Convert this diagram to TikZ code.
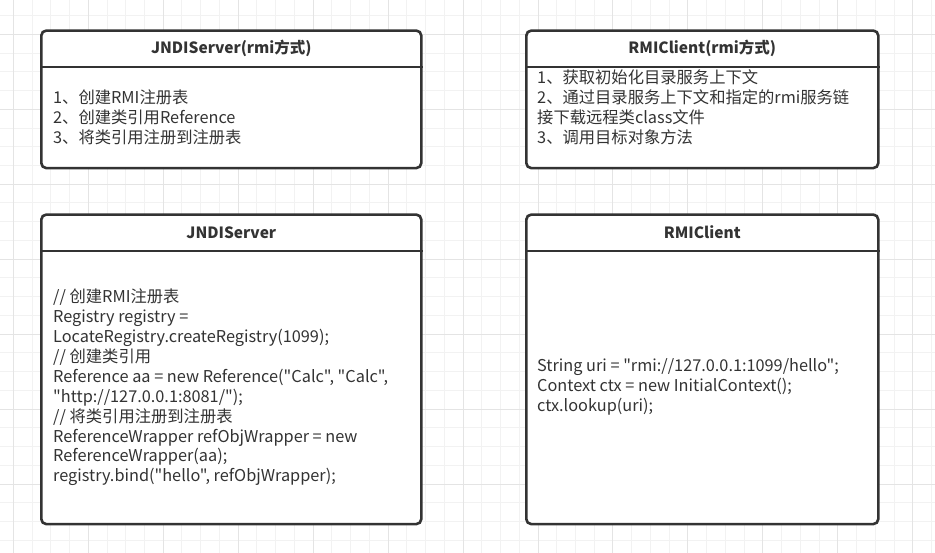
\documentclass[tikz,border=0pt]{standalone}
\usepackage{fontspec}
\newfontfamily\yahei{Noto Sans CJK SC}
\usetikzlibrary{positioning}

\definecolor{gridminor}{HTML}{F2F2F2}
\definecolor{gridmajor}{HTML}{E4E4E4}
\definecolor{boxline}{HTML}{333333}

\tikzset{
  classbox/.style={draw=boxline, line width=2.6pt, rounded corners=5pt, fill=white,
    inner sep=0pt, anchor=north west},
  classrule/.style={draw=boxline, line width=2.4pt},
  classtitle/.style={font=\yahei\fontsize{15.5}{18}\selectfont\bfseries, text=boxline},
  classbody/.style={font=\yahei\fontsize{16.3}{19.9}\selectfont, text=boxline, align=left,
    anchor=west, inner sep=0pt},
}

\begin{document}
\begin{tikzpicture}[x=1pt, y=-1pt]
    \useasboundingbox[fill=white] (0,0) rectangle (935,553);
    % background grid
    \foreach \k in {0,...,49}
        \draw[gridminor, line width=1pt] (13.3+18.74*\k, 0) -- (13.3+18.74*\k, 553);
    \foreach \k in {0,...,28}
        \draw[gridminor, line width=1pt] (0, 15.6+18.74*\k) -- (935, 15.6+18.74*\k);
    \foreach \k in {0,4,...,48}
        \draw[gridmajor, line width=1pt] (13.3+18.74*\k, 0) -- (13.3+18.74*\k, 553);
    \foreach \k in {1,5,...,25}
        \draw[gridmajor, line width=1pt] (0, 15.6+18.74*\k) -- (935, 15.6+18.74*\k);

    % top row
    \node[classbox, minimum width=380pt, minimum height=137.5pt] (jndirmi) at (40,29.3) {};
    \node[classbox, minimum width=352pt, minimum height=137.5pt] (clientrmi) at (525,29.3) {};
    \draw[classrule] ([yshift=-37.8pt]jndirmi.north west) -- ([yshift=-37.8pt]jndirmi.north east);
    \draw[classrule] ([yshift=-37.8pt]clientrmi.north west) -- ([yshift=-37.8pt]clientrmi.north east);
    \node[classtitle] (jndirmititle) at ([yshift=-19.5pt]jndirmi.north) {JNDIServer(rmi方式)};
    \node[classtitle] (clientrmititle) at ([yshift=-19.5pt]clientrmi.north) {RMIClient(rmi方式)};
    \node[classbody] (jndirmibody) at (53,117.5) {1、创建RMI注册表\\2、创建类引用Reference\\3、将类引用注册到注册表};
    \node[classbody] (clientrmibody) at (537,107) {1、获取初始化目录服务上下文\\2、通过目录服务上下文和指定的rmi服务链\\接下载远程类class文件\\3、调用目标对象方法};

    % bottom row
    \node[classbox, minimum width=380pt, minimum height=309.5pt] (jndi) at (40,213.3) {};
    \node[classbox, minimum width=352pt, minimum height=309.5pt] (client) at (525,213.3) {};
    \draw[classrule] ([yshift=-37.8pt]jndi.north west) -- ([yshift=-37.8pt]jndi.north east);
    \draw[classrule] ([yshift=-37.8pt]client.north west) -- ([yshift=-37.8pt]client.north east);
    \node[classtitle] (jndititle) at ([yshift=-19pt]jndi.north) {JNDIServer};
    \node[classtitle] (clienttitle) at ([yshift=-19pt]client.north) {RMIClient};
    \node[classbody] (jndibody) at (53,387.5) {// 创建RMI注册表\\Registry registry =\\LocateRegistry.createRegistry(1099);\\// 创建类引用\\Reference aa = new Reference("Calc", "Calc",\\"http://127.0.0.1:8081/");\\// 将类引用注册到注册表\\ReferenceWrapper refObjWrapper = new\\ReferenceWrapper(aa);\\registry.bind("hello", refObjWrapper);};
    \node[classbody] (clientbody) at (537,387) {String uri = "rmi://127.0.0.1:1099/hello";\\Context ctx = new InitialContext();\\ctx.lookup(uri);};
\end{tikzpicture}
\end{document}
